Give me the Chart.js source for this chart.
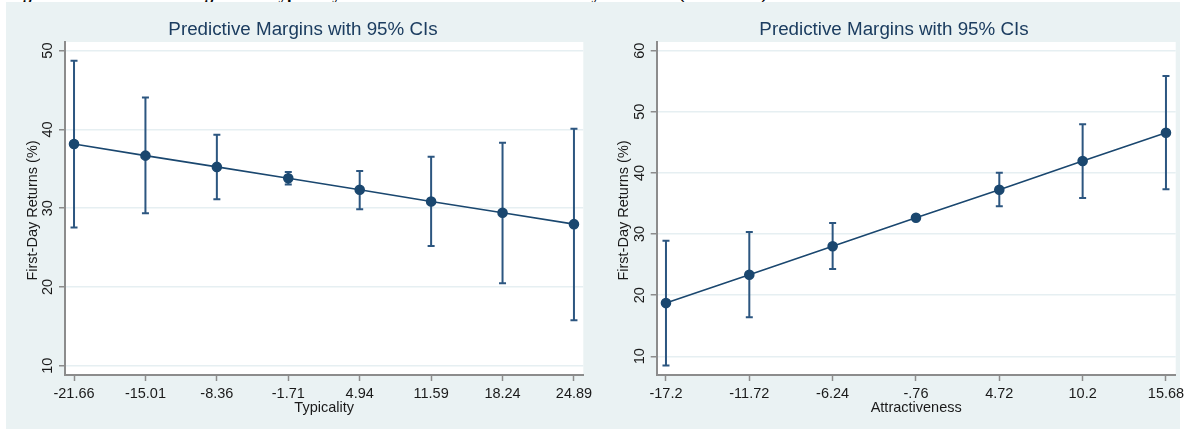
<!DOCTYPE html>
<html>
<head>
<meta charset="utf-8">
<script src="https://cdn.jsdelivr.net/npm/chart.js@4"></script>
<style>
  html, body { margin: 0; padding: 0; width: 1185px; height: 431px; overflow: hidden; background: #fff; }
  #cap { position: absolute; left: 8px; top: -16px; font: bold 17px "Liberation Serif"; white-space: nowrap; color: #000; word-spacing: 6px; }
  #bg { position: absolute; left: 6px; top: 2px; width: 1174px; height: 427px; background: #eaf2f3; }
  #wl { position: absolute; left: 3px; top: 0; width: 600px; height: 431px; }
  #wr { position: absolute; left: 603px; top: 0; width: 582px; height: 431px; }
</style>
</head>
<body>
<div id="cap">Figure 4. Predictive Margins of Typicality and Attractiveness on First-Day Returns (Continued)</div>
<div id="bg"></div>
<div id="wl"><canvas id="left"></canvas></div>
<div id="wr"><canvas id="right"></canvas></div>
<script>
// typicality panel
const typTicks = [-21.66, -15.01, -8.36, -1.71, 4.94, 11.59, 18.24, 24.89];
const typLabels = ['-21.66', '-15.01', '-8.36', '-1.71', '4.94', '11.59', '18.24', '24.89'];
const typMargin = [38.15, 36.67, 35.24, 33.8, 32.33, 30.85, 29.42, 27.97];
const typLower = [27.56, 29.37, 31.14, 33.0, 29.87, 25.19, 20.47, 15.78];
const typUpper = [48.7, 44.05, 39.33, 34.6, 34.73, 36.54, 38.32, 40.09];
const typYTicks = [10, 20, 30, 40, 50];

// attractiveness panel
const attTicks = [-17.2, -11.72, -6.24, -0.76, 4.72, 10.2, 15.68];
const attLabels = ['-17.2', '-11.72', '-6.24', '-.76', '4.72', '10.2', '15.68'];
const attMargin = [18.7, 23.34, 27.99, 32.67, 37.25, 41.95, 46.58];
const attLower = [8.51, 16.37, 24.27, 32.4, 34.53, 35.9, 37.32];
const attUpper = [28.9, 30.33, 31.8, 32.95, 40.03, 47.95, 55.86];
const attYTicks = [10, 20, 30, 40, 50, 60];

const navy = '#1a476f';
const axisGray = '#8c8c8c';
const txt = '#1a1a1a';
const FONT = 'Liberation Sans';

function makePanel(id, p) {
  const decor = {
    id: 'decor',
    beforeDraw(chart) {
      const a = chart.chartArea, ctx = chart.ctx;
      ctx.save();
      ctx.fillStyle = '#ffffff';
      ctx.fillRect(a.left, a.top, a.right - a.left, a.bottom - a.top);
      ctx.restore();
    },
    beforeDatasetsDraw(chart) {
      const ctx = chart.ctx, xs = chart.scales.x, ys = chart.scales.y;
      ctx.save();
      ctx.strokeStyle = '#2c5680';
      ctx.lineWidth = 2;
      p.xs.forEach((xv, i) => {
        const x = xs.getPixelForValue(xv);
        const y1 = ys.getPixelForValue(p.lo[i]);
        const y2 = ys.getPixelForValue(p.hi[i]);
        ctx.beginPath();
        ctx.moveTo(x, y1); ctx.lineTo(x, y2);
        ctx.moveTo(x - 3.5, y1); ctx.lineTo(x + 3.5, y1);
        ctx.moveTo(x - 3.5, y2); ctx.lineTo(x + 3.5, y2);
        ctx.stroke();
      });
      ctx.restore();
    },
    afterDraw(chart) {
      const ctx = chart.ctx, a = chart.chartArea, ys = chart.scales.y;
      ctx.save();
      ctx.fillStyle = txt;
      ctx.font = '14.5px "' + FONT + '"';
      ctx.textAlign = 'center';
      ctx.textBaseline = 'middle';
      ys.ticks.forEach(t => {
        ctx.save();
        ctx.translate(a.left - 17, ys.getPixelForValue(t.value));
        ctx.rotate(-Math.PI / 2);
        ctx.fillText(String(t.value), 0, 0);
        ctx.restore();
      });
      ctx.translate(a.left - 32.5, (a.top + a.bottom) / 2 + 2);
      ctx.rotate(-Math.PI / 2);
      ctx.fillText('First-Day Returns (%)', 0, 0);
      ctx.restore();
    }
  };

  return new Chart(document.getElementById(id), {
    type: 'scatter',
    data: {
      datasets: [{
        data: p.xs.map((x, i) => ({ x: x, y: p.ys[i] })),
        showLine: true,
        borderColor: navy,
        borderWidth: 1.6,
        backgroundColor: navy,
        pointBackgroundColor: navy,
        pointBorderColor: navy,
        pointRadius: 4.5,
        pointHoverRadius: 4.5
      }]
    },
    options: {
      responsive: true,
      maintainAspectRatio: false,
      animation: false,
      layout: { padding: 0 },
      plugins: {
        legend: { display: false },
        tooltip: { enabled: false },
        title: {
          display: true,
          text: 'Predictive Margins with 95% CIs',
          color: '#1c3d60',
          font: { family: FONT, size: 18.8, weight: 'normal' },
          padding: { top: 18.7, bottom: 0.7 }
        }
      },
      scales: {
        x: {
          type: 'linear',
          min: p.xmin,
          max: p.xmax,
          afterBuildTicks: s => { s.ticks = p.xs.map(v => ({ value: v })); },
          afterFit: s => { s.height = 56; s.paddingLeft = 0; s.paddingRight = 0; },
          ticks: {
            autoSkip: false,
            maxRotation: 0,
            padding: 4,
            color: txt,
            font: { family: FONT, size: 14.5 },
            callback: (v, i) => p.labels[i]
          },
          grid: { drawOnChartArea: false, drawTicks: true, tickLength: 6, tickColor: axisGray, tickWidth: 1.5 },
          border: { color: axisGray, width: 2 },
          title: {
            display: true,
            text: p.xTitle,
            color: txt,
            font: { family: FONT, size: 14.5 },
            padding: { top: 0, bottom: 14 }
          }
        },
        y: {
          min: p.ymin,
          max: p.ymax,
          afterBuildTicks: s => { s.ticks = p.yTicks.map(v => ({ value: v })); },
          afterFit: s => { s.width = p.yWidth; s.paddingTop = 0; s.paddingBottom = 0; },
          ticks: { display: false },
          grid: { color: '#e6eff2', lineWidth: 1.5, drawTicks: true, tickLength: 6, tickColor: axisGray, tickWidth: 1.5 },
          border: { color: axisGray, width: 2 }
        },
        // empty spacer on the right so the title stays centred on the whole panel
        pad: {
          type: 'linear',
          position: 'right',
          min: 0,
          max: 1,
          afterFit: s => { s.width = p.padRight; s.paddingTop = 0; s.paddingBottom = 0; },
          ticks: { display: false },
          grid: { display: false, drawTicks: false },
          border: { display: false }
        }
      }
    },
    plugins: [decor]
  });
}

makePanel('left', {
  xs: typTicks, labels: typLabels, ys: typMargin, lo: typLower, hi: typUpper,
  yTicks: typYTicks, xmin: -22.5, xmax: 25.76, ymin: 8.82, ymax: 51.1,
  xTitle: 'Typicality', yWidth: 62, padRight: 19.7
});

makePanel('right', {
  xs: attTicks, labels: attLabels, ys: attMargin, lo: attLower, hi: attUpper,
  yTicks: attYTicks, xmin: -17.81, xmax: 16.32, ymin: 6.94, ymax: 61.42,
  xTitle: 'Attractiveness', yWidth: 53.7, padRight: 9.3
});
</script>
</body>
</html>
